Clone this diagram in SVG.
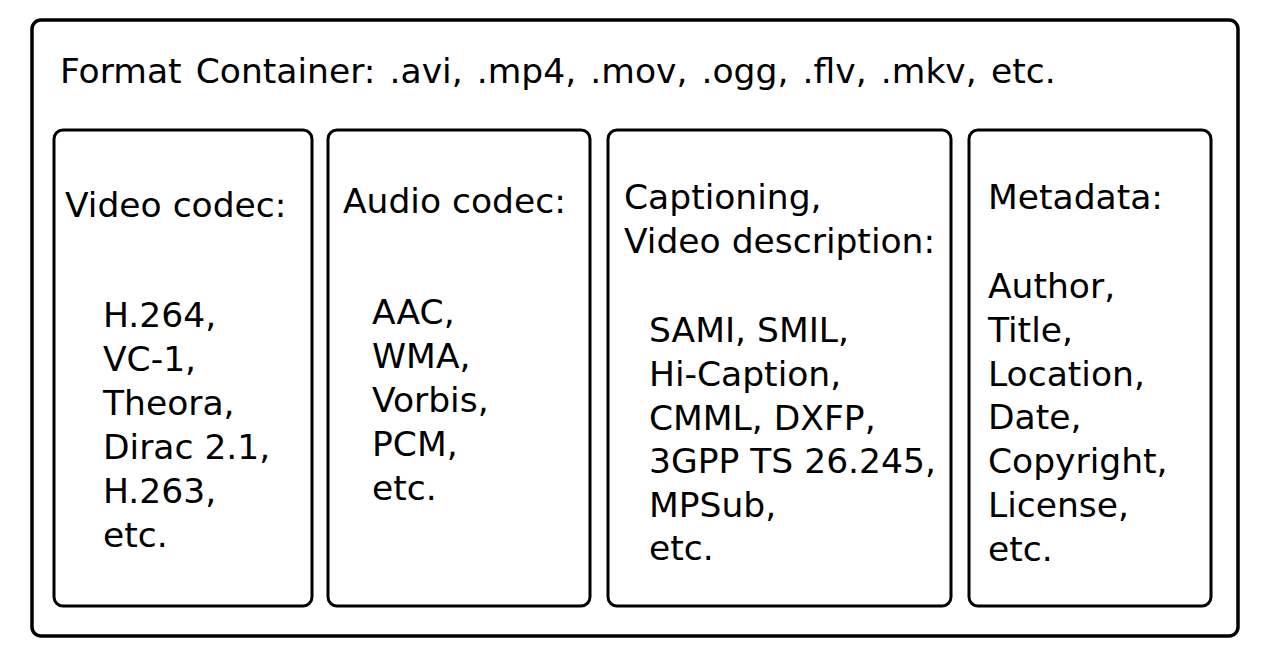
<svg xmlns="http://www.w3.org/2000/svg" width="1268" height="662" viewBox="0 0 1268 662">
<style>
text{font-family:"DejaVu Sans",sans-serif;font-size:34.5px;fill:#000}
.box{fill:#fff;stroke:#000;stroke-width:3}
.outer{fill:#fff;stroke:#000;stroke-width:3.5}
</style>
<rect width="1268" height="662" fill="#fff"/>
<g id="container">
<rect class="outer" x="32" y="20" width="1206" height="616" rx="9"/>
<text x="60" y="83" word-spacing="3.2">Format Container: .avi, .mp4, .mov, .ogg, .flv, .mkv, etc.</text>
</g>
<g id="video">
<rect class="box" x="54" y="130" width="258" height="476" rx="9"/>
<text x="65" y="217">Video codec:</text>
<text x="103" y="327">H.264,</text>
<text x="103" y="371">VC-1,</text>
<text x="103" y="415">Theora,</text>
<text x="103" y="459">Dirac 2.1,</text>
<text x="103" y="503">H.263,</text>
<text x="103" y="547">etc.</text>
</g>
<g id="audio">
<rect class="box" x="328" y="130" width="262" height="476" rx="9"/>
<text x="343" y="213">Audio codec:</text>
<text x="372" y="324">AAC,</text>
<text x="372" y="368">WMA,</text>
<text x="372" y="412">Vorbis,</text>
<text x="372" y="456">PCM,</text>
<text x="372" y="500">etc.</text>
</g>
<g id="captioning">
<rect class="box" x="608" y="130" width="343" height="476" rx="9"/>
<text x="624" y="209">Captioning,</text>
<text x="624" y="253">Video description:</text>
<text x="649" y="342">SAMI, SMIL,</text>
<text x="649" y="386">Hi-Caption,</text>
<text x="649" y="430">CMML, DXFP,</text>
<text x="649" y="473">3GPP TS 26.245,</text>
<text x="649" y="517">MPSub,</text>
<text x="649" y="560">etc.</text>
</g>
<g id="metadata">
<rect class="box" x="969" y="130" width="242" height="476" rx="9"/>
<text x="988" y="209">Metadata:</text>
<text x="988" y="298">Author,</text>
<text x="988" y="342">Title,</text>
<text x="988" y="386">Location,</text>
<text x="988" y="429">Date,</text>
<text x="988" y="473">Copyright,</text>
<text x="988" y="517">License,</text>
<text x="988" y="561">etc.</text>
</g>
<g id="connectors"/>
</svg>
